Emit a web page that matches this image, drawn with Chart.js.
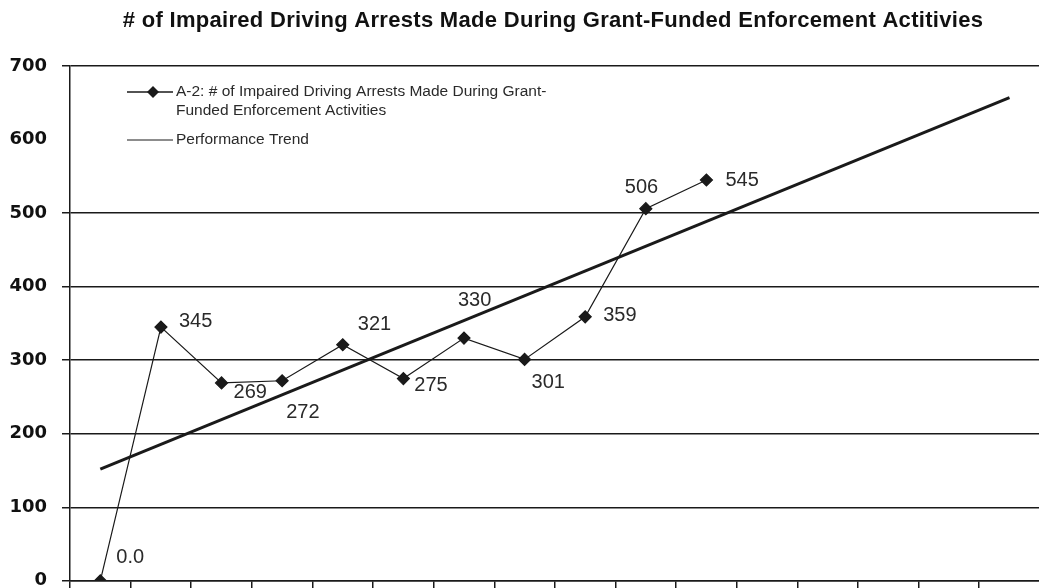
<!DOCTYPE html>
<html>
<head>
<meta charset="utf-8">
<script src="https://cdn.jsdelivr.net/npm/chart.js@4.4.1/dist/chart.umd.min.js"></script>
<style>
    html, body { margin: 0; padding: 0; background: #fff; overflow: hidden; }
    #wrap { width: 1047px; height: 588px; }
</style>
</head>
<body>
<div id="wrap"><canvas id="chart" width="1047" height="588"></canvas></div>
<script>
// periods on the x axis (not labelled in the original)
const periods = ['1', '2', '3', '4', '5', '6', '7', '8', '9', '10', '11', '12', '13', '14', '15', '16'];
const arrests = [0, 345, 269, 272, 321, 275, 330, 301, 359, 506, 545, null, null, null, null, null];
const arrestLabels = ['0.0', '345', '269', '272', '321', '275', '330', '301', '359', '506', '545'];
const trend = [152, null, null, null, null, null, null, null, null, null, null, null, null, null, null, 657];
const yTicks = [0, 100, 200, 300, 400, 500, 600, 700];
// the 600 line does not show in the original
const hiddenGridValues = [600];

const titleText = '# of Impaired Driving Arrests Made During Grant-Funded Enforcement Actitivies';
const seriesName = 'A-2: # of Impaired Driving Arrests Made During Grant-Funded Enforcement Activities';
const trendName = 'Performance Trend';

// where each value label sits relative to its point (dx to left edge, dy to middle)
const labelOffsets = [[16, -23], [18, -6], [12, 10], [4, 32], [15, -20], [11, 7],
    [-6, -38], [7, 23], [18, -1], [-21, -21], [19, 0]];

const ink = '#1a1a1a';

const decorations = {
    id: 'decorations',
    afterDatasetsDraw(chart) {
        const ctx = chart.ctx;
        const meta = chart.getDatasetMeta(0);
        ctx.save();
        // value labels
        ctx.font = '20px "Liberation Sans", Arial, sans-serif';
        ctx.fillStyle = '#2a2a2a';
        ctx.textBaseline = 'middle';
        ctx.textAlign = 'left';
        arrestLabels.forEach((txt, i) => {
            const pt = meta.data[i];
            const off = labelOffsets[i];
            ctx.fillText(txt, pt.x + off[0], pt.y + off[1]);
        });

        // legend in the top left of the plot
        ctx.font = '15.5px "Liberation Sans", Arial, sans-serif';
        ctx.strokeStyle = ink;
        ctx.lineWidth = 1.5;
        ctx.beginPath();
        ctx.moveTo(127, 92);
        ctx.lineTo(173, 92);
        ctx.stroke();
        ctx.fillStyle = ink;
        ctx.beginPath();
        ctx.moveTo(153, 86);
        ctx.lineTo(159, 92);
        ctx.lineTo(153, 98);
        ctx.lineTo(147, 92);
        ctx.closePath();
        ctx.fill();
        ctx.fillStyle = '#2a2a2a';
        ctx.fillText('A-2: # of Impaired Driving Arrests Made During Grant-', 176, 92);
        ctx.fillText('Funded Enforcement Activities', 176, 111);

        ctx.lineWidth = 1;
        ctx.beginPath();
        ctx.moveTo(127, 140);
        ctx.lineTo(173, 140);
        ctx.stroke();
        ctx.fillText(trendName, 176, 140);

        // title
        ctx.font = 'bold 22px "Liberation Sans", Arial, sans-serif';
        ctx.letterSpacing = '0.3px';
        ctx.fillStyle = '#111';
        ctx.textAlign = 'center';
        ctx.fillText(titleText, 553, 21);
        ctx.restore();
    }
};

new Chart(document.getElementById('chart'), {
    type: 'line',
    data: {
        labels: periods,
        datasets: [
            {
                label: seriesName,
                data: arrests,
                borderColor: ink,
                borderWidth: 1.2,
                pointStyle: 'rectRot',
                pointRadius: 6,
                pointBackgroundColor: ink,
                pointBorderColor: ink,
                tension: 0
            },
            {
                label: trendName,
                data: trend,
                borderColor: ink,
                borderWidth: 3,
                pointRadius: 0,
                spanGaps: true,
                tension: 0
            }
        ]
    },
    options: {
        responsive: false,
        animation: false,
        layout: { padding: { top: 66, right: 0, bottom: 0, left: 0 } },
        plugins: {
            legend: { display: false },
            title: { display: false },
            tooltip: { enabled: false }
        },
        scales: {
            x: {
                type: 'category',
                offset: true,
                grid: {
                    offset: true,
                    drawOnChartArea: false,
                    drawTicks: true,
                    tickLength: 8,
                    color: ink,
                    lineWidth: 1.5
                },
                border: { display: true, color: ink, width: 1.5 },
                ticks: { display: false },
                afterFit(scale) {
                    scale.height = 7;
                    scale.paddingLeft = 0;
                    scale.paddingRight = 0;
                }
            },
            y: {
                min: 0,
                max: 700,
                afterBuildTicks(scale) { scale.ticks = yTicks.map(v => ({ value: v })); },
                grid: {
                    color: c => (c.tick && hiddenGridValues.includes(c.tick.value)) ? 'rgba(0,0,0,0)' : ink,
                    lineWidth: 1.5,
                    tickLength: 8
                },
                border: { display: true, color: ink, width: 1.5 },
                ticks: {
                    padding: 15,
                    color: '#111',
                    font: { family: '"DejaVu Sans", sans-serif', size: 18, weight: 'bold' }
                },
                afterFit(scale) {
                    scale.width = 70;
                    scale.paddingTop = 0;
                    scale.paddingBottom = 0;
                }
            }
        }
    },
    plugins: [decorations]
});
</script>
</body>
</html>
